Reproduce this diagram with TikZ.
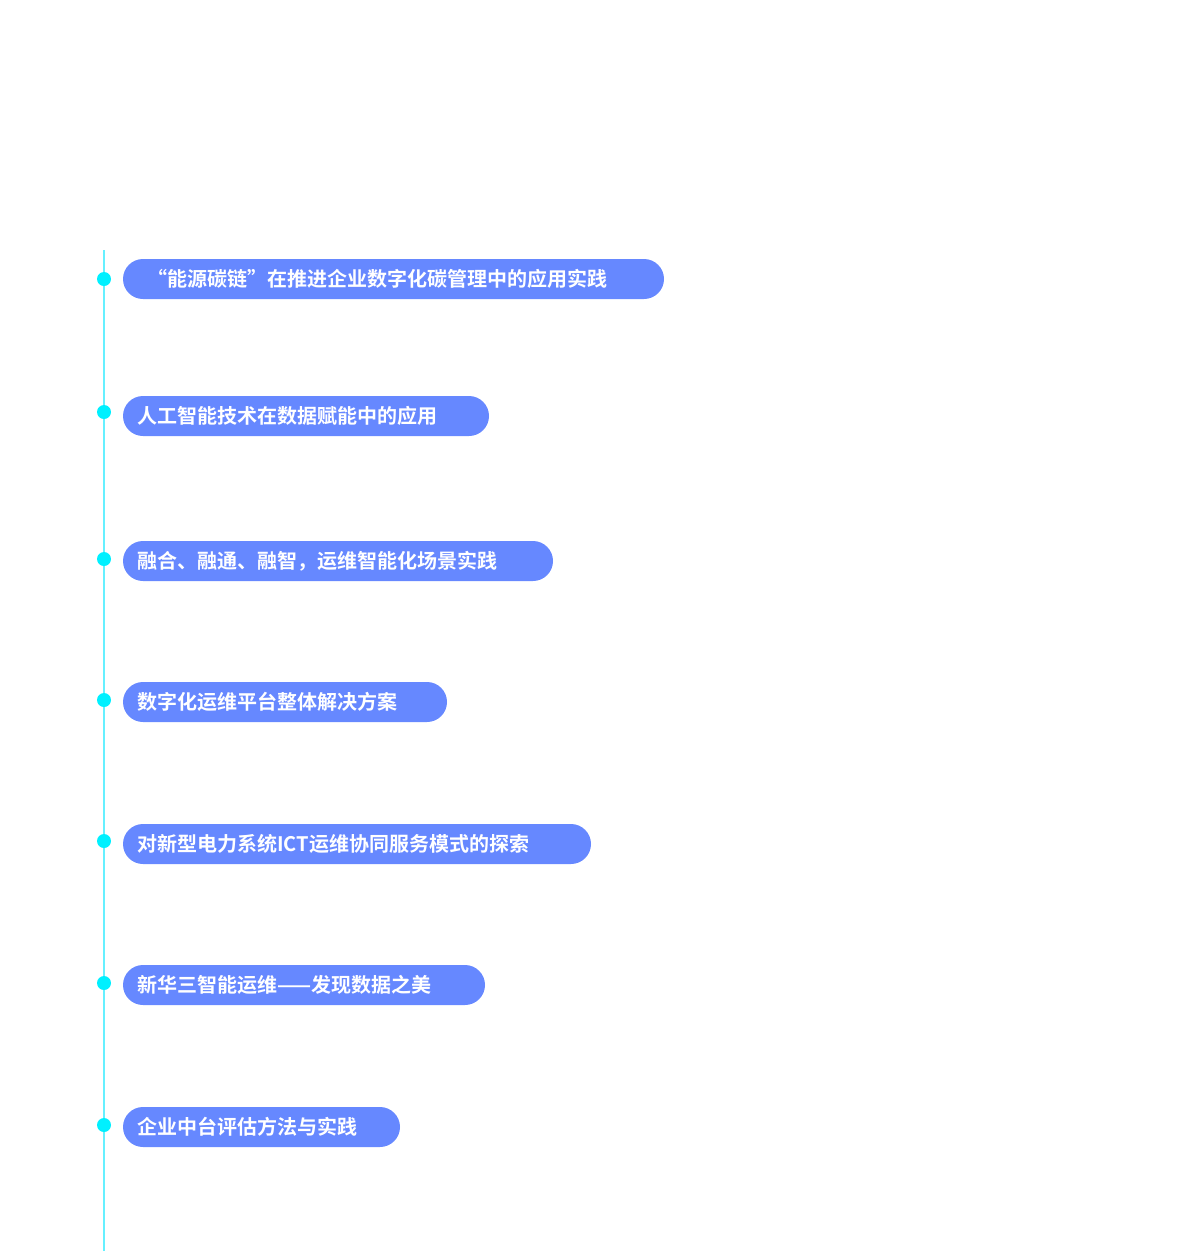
\documentclass[tikz,border=0pt]{standalone}
\usepackage{fontspec}
\newfontfamily\cjk{Noto Sans CJK SC Bold}
\definecolor{pill}{HTML}{6688FF}
\definecolor{dotc}{HTML}{00F0FF}
\definecolor{linec}{HTML}{66F0FF}
\begin{document}
\begin{tikzpicture}[x=1pt,y=-1pt,
  pillst/.style={fill=pill,rounded corners=20pt},
  lbl/.style={anchor=west,text=white,font=\cjk\fontsize{20}{24}\selectfont,inner sep=0pt},
  dot/.style={circle,fill=dotc,minimum size=14pt,inner sep=0pt}]
\useasboundingbox (0,0) rectangle (1200,1251);
\coordinate (top) at (104,250);
\coordinate (bot) at (104,1251);
\draw[linec,line width=2pt] (top) -- (bot);
\foreach \i/\y/\r/\tx/\t in {
 1/279/664/147/“能源碳链”在推进企业数字化碳管理中的应用实践,
 2/416/489/137/人工智能技术在数据赋能中的应用,
 3/561/553/137/融合、融通、融智，运维智能化场景实践,
 4/702/447/137/数字化运维平台整体解决方案,
 5/844/591/137/对新型电力系统ICT运维协同服务模式的探索,
 6/985/485/137/新华三智能运维——发现数据之美,
 7/1127/400/137/企业中台评估方法与实践}{
  \fill[pillst] (123,\y-20) rectangle (\r,\y+20);
  \node[lbl] (t\i) at (\tx,\y) {\t};
}
\foreach \i/\y in {1/279,2/412,3/559,4/700,5/841,6/983,7/1125}{
  \node[dot] (d\i) at (104,\y) {};
}
\end{tikzpicture}
\end{document}
